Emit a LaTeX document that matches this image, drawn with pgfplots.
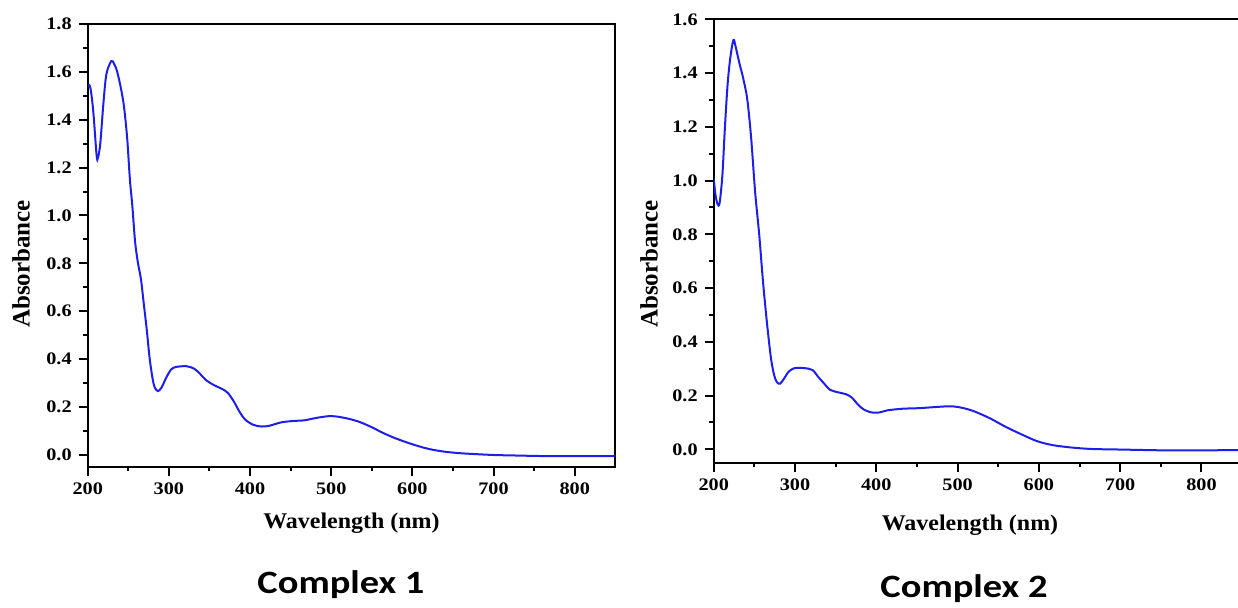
\documentclass[border=0pt]{standalone}
\usepackage{fontspec}
\setmainfont{Liberation Serif}
\newfontfamily\tickfont[FakeStretch=1.15]{Liberation Serif}
\newfontfamily\labfont[FakeStretch=1.07]{Liberation Serif}
\newfontfamily\capfont[FakeStretch=1.18]{Carlito}
\usepackage{pgfplots}
\pgfplotsset{compat=1.18}
\definecolor{specblue}{RGB}{30,30,235}

\pgfplotsset{spec/.style={
  scale only axis, anchor=south west,
  xmin=200, xmax=850, ymin=-0.05,
  xtick={200,300,400,500,600,700,800}, minor x tick num=1, minor y tick num=1,
  tick align=outside, xtick pos=bottom, ytick pos=left,
  major tick length=4.5pt, minor tick length=2.25pt,
  tick style={black, line width=1pt},
  axis line style={line width=1pt},
  tick label style={font=\tickfont\bfseries\fontsize{8.8}{10}\selectfont},
  /pgf/number format/assume math mode=true,
  yticklabel style={/pgf/number format/.cd, fixed, fixed zerofill, precision=1},
  clip=true,
}}

\begin{document}
\begin{tikzpicture}[x=1pt,y=1pt]
\path[use as bounding box] (0,0) rectangle (619,-303.5);

% Complex 1
\begin{axis}[spec, at={(43.85pt,-233.35pt)}, width=263.8pt, height=221.35pt,
  ymax=1.8, ytick={0,0.2,0.4,0.6,0.8,1.0,1.2,1.4,1.6,1.8}]
\addplot[specblue, line width=1pt, smooth] coordinates {
(200,1.54) (202,1.545) (204,1.52) (207,1.43) (211,1.25) (212.6,1.24) (215.5,1.30)
(219.4,1.47) (223,1.59) (229,1.645) (232.5,1.634) (236.4,1.60) (241,1.53)
(244.7,1.455) (248.6,1.325) (252,1.15) (255,1.04) (258.3,0.893) (261.7,0.806)
(265.6,0.734) (269,0.634) (272.9,0.518) (276.3,0.403) (280,0.317) (282.6,0.281)
(286.5,0.266) (291,0.281) (297,0.324) (303,0.357) (309,0.367) (321.5,0.37)
(331,0.36) (338.5,0.338) (345.7,0.312) (355.5,0.291) (365,0.276) (372.5,0.259)
(380,0.223) (387,0.18) (394,0.147) (404,0.125) (414,0.118) (423.5,0.121)
(438,0.135) (452.6,0.141) (467,0.144) (481.8,0.154) (496,0.161) (506,0.16)
(520.6,0.151) (535,0.137) (550,0.115) (564,0.091) (579,0.069) (598,0.046)
(618,0.026) (637,0.014) (656.7,0.007) (676,0.003) (700,-0.001) (724.7,-0.003)
(773,-0.006) (850,-0.006)
};
\end{axis}

% Complex 2
\begin{axis}[spec, at={(356.85pt,-231.35pt)}, width=264.2pt, height=221.7pt,
  ymax=1.6, ytick={0,0.2,0.4,0.6,0.8,1.0,1.2,1.4,1.6}]
\addplot[specblue, line width=1pt, smooth] coordinates {
(200,1.007) (202.4,0.943) (204.9,0.911) (207.3,0.917) (210.7,1.02) (213.6,1.187)
(217,1.354) (220.4,1.456) (224.3,1.523) (227.2,1.495) (231.6,1.437) (236.4,1.379)
(241.3,1.302) (246,1.161) (251,0.956) (255.9,0.802) (260.7,0.622) (265.6,0.468)
(270.4,0.34) (274.3,0.276) (277.7,0.25) (281.6,0.244) (286.5,0.263) (292.3,0.289)
(299.6,0.302) (311.7,0.302) (321.5,0.295) (328.7,0.269) (336,0.244) (343.3,0.221)
(353,0.212) (362.7,0.205) (370,0.192) (377.3,0.167) (384.6,0.148) (394.3,0.137)
(404,0.137) (413.8,0.145) (433,0.151) (452.6,0.153) (472,0.157) (491.5,0.16)
(506,0.154) (520.6,0.141) (540,0.115) (559.5,0.083) (579,0.055) (598,0.03)
(617.8,0.015) (642,0.006) (666,0.001) (700,-0.001) (753.8,-0.004) (797.5,-0.004)
(850,-0.003)
};
\end{axis}

% axis titles
\node[rotate=90, font=\bfseries\fontsize{12.5}{14}\selectfont] at (10.5,-132) {Absorbance};
\node[rotate=90, font=\bfseries\fontsize{12.5}{14}\selectfont] at (324.5,-132) {Absorbance};
\node[font=\labfont\bfseries\fontsize{11.2}{13}\selectfont] at (175.75,-261.75) {Wavelength (nm)};
\node[font=\labfont\bfseries\fontsize{11.2}{13}\selectfont] at (485,-262.5) {Wavelength (nm)};

% captions
\node[anchor=base, font=\capfont\bfseries\fontsize{16.3}{18}\selectfont] at (170.5,-296.5) {Complex 1};
\node[anchor=base, font=\capfont\bfseries\fontsize{16.3}{18}\selectfont] at (482,-298.5) {Complex 2};
\end{tikzpicture}
\end{document}
